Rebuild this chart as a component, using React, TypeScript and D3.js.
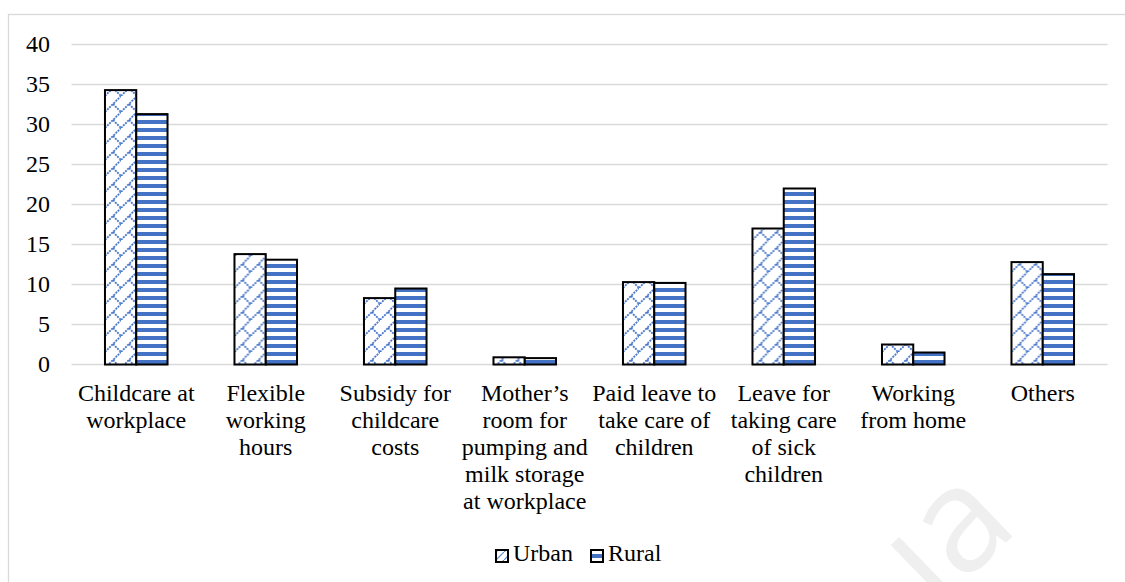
import React from "react";
import * as d3 from "d3";

// Share of respondents choosing each childcare support measure (%)
const categories: string[][] = [
  ["Childcare at", "workplace"],
  ["Flexible", "working", "hours"],
  ["Subsidy for", "childcare", "costs"],
  ["Mother’s", "room for", "pumping and", "milk storage", "at workplace"],
  ["Paid leave to", "take care of", "children"],
  ["Leave for", "taking care", "of sick", "children"],
  ["Working", "from home"],
  ["Others"],
];
const urban = [34.3, 13.8, 8.3, 0.9, 10.3, 17.0, 2.5, 12.8];
const rural = [31.3, 13.1, 9.5, 0.8, 10.2, 22.0, 1.5, 11.3];
const seriesNames = ["Urban", "Rural"];
const yTicks = [0, 5, 10, 15, 20, 25, 30, 35, 40];

const W = 1125;
const H = 582;
const BLUE = "#4472C4";
const GRID = "#d9d9d9";
const FONT = "'Liberation Serif', 'DejaVu Serif', serif";
const FS = 24;

export default function App() {
  const keys = categories.map((c) => c.join(" "));
  const x = d3
    .scaleBand<string>()
    .domain(keys)
    .range([71.5, 1107.5])
    .paddingInner(0.517)
    .paddingOuter(0.2585);
  const xs = d3.scaleBand<string>().domain(seriesNames).range([0, x.bandwidth()]);
  const y = d3.scaleLinear().domain([0, 40]).range([364.5, 44.5]);

  const rows = keys.map((k, i) => ({ key: k, values: [urban[i], rural[i]] }));
  const fills = ["url(#urbanPat)", "url(#ruralPat)"];

  return (
    <svg
      width={W}
      height={H}
      style={{ position: "absolute", left: 0, top: 0, background: "#fff", fontFamily: FONT }}
    >
      <defs>
        <pattern id="urbanPat" patternUnits="userSpaceOnUse" width={16} height={16}>
          <rect width={16} height={16} fill="#fff" />
          <line x1={0} y1={16} x2={16} y2={0} stroke="#4a78ca" strokeWidth={1.8} strokeDasharray="2 1" />
          <line x1={8} y1={8} x2={16} y2={16} stroke="#4a78ca" strokeWidth={1.8} strokeDasharray="2 1" />
        </pattern>
        <pattern id="ruralPat" patternUnits="userSpaceOnUse" width={8} height={8}>
          <rect width={8} height={8} fill="#fff" />
          <rect y={0} width={8} height={4} fill={BLUE} />
        </pattern>
        <pattern id="urbanLeg" patternUnits="userSpaceOnUse" width={8} height={8}>
          <rect width={8} height={8} fill="#fff" />
          <line x1={0} y1={8} x2={8} y2={0} stroke="#5f87d0" strokeWidth={1.2} />
        </pattern>
        <pattern id="ruralLeg" patternUnits="userSpaceOnUse" width={12} height={12} y={550}>
          <rect width={12} height={12} fill="#fff" />
          <rect y={4} width={12} height={4} fill={BLUE} />
        </pattern>
      </defs>

      {/* faint background watermark */}
      <text
        transform="translate(936,610) rotate(-44)"
        fontFamily="'Open Sans', 'Noto Sans', sans-serif"
        fontSize={146}
        fill="#efefef"
      >
        ıa
      </text>

      {/* chart frame */}
      <rect x={8.5} y={14.5} width={1130} height={600} fill="none" stroke={GRID} strokeWidth={1.3} />

      {/* gridlines and y labels */}
      {yTicks.map((t) => (
        <g key={t}>
          <line x1={71.5} x2={1107.5} y1={y(t)} y2={y(t)} stroke={GRID} strokeWidth={1.5} />
          <text x={50} y={y(t)} dy="0.33em" textAnchor="end" fontSize={FS} fill="#000">
            {t}
          </text>
        </g>
      ))}

      {/* bars */}
      {rows.map((r) => (
        <g key={r.key} transform={`translate(${x(r.key)},0)`}>
          {r.values.map((v, j) => (
            <rect
              key={j}
              x={xs(seriesNames[j])}
              y={y(v)}
              width={xs.bandwidth()}
              height={y(0) - y(v)}
              fill={fills[j]}
              stroke="#000"
              strokeWidth={2}
            />
          ))}
        </g>
      ))}

      {/* category labels */}
      {categories.map((lines, i) => (
        <text
          key={i}
          x={(x(keys[i]) as number) + x.bandwidth() / 2}
          textAnchor="middle"
          fontSize={FS}
          fill="#000"
        >
          {lines.map((l, k) => (
            <tspan key={k} x={(x(keys[i]) as number) + x.bandwidth() / 2} y={401 + k * 27}>
              {l}
            </tspan>
          ))}
        </text>
      ))}

      {/* legend */}
      <g>
        <rect x={496} y={550} width={12} height={12} fill="url(#urbanLeg)" stroke="#000" strokeWidth={2} />
        <text x={513} y={561} fontSize={FS} fill="#000">
          {seriesNames[0]}
        </text>
        <rect x={591} y={550} width={12} height={12} fill="url(#ruralLeg)" stroke="#000" strokeWidth={2} />
        <text x={608} y={561} fontSize={FS} fill="#000">
          {seriesNames[1]}
        </text>
      </g>
    </svg>
  );
}
